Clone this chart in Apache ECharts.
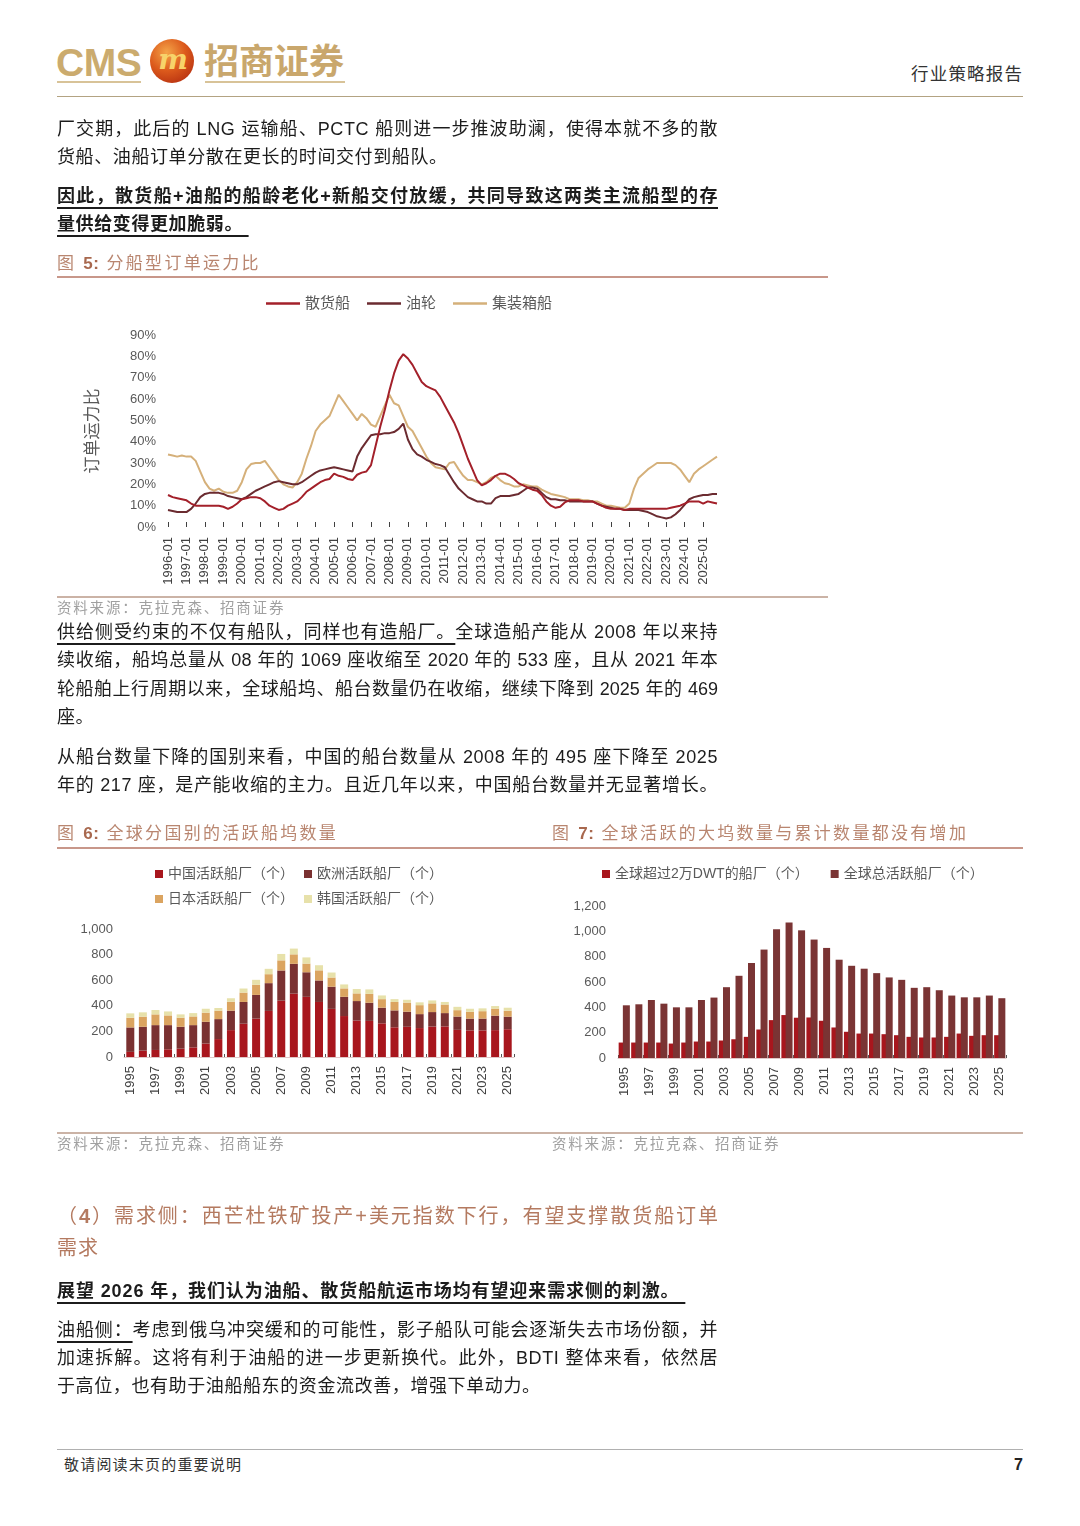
<!DOCTYPE html>
<html><head><meta charset="utf-8">
<script src="https://cdn.jsdelivr.net/npm/echarts@6/dist/echarts.min.js"></script>
<style>
html,body{margin:0;padding:0;background:#fff;}
body{width:1080px;height:1526px;position:relative;overflow:hidden;font-family:"Liberation Sans","Noto Sans CJK SC",sans-serif;}
#chart{position:absolute;left:0;top:0;width:1080px;height:1526px;}
.t{position:absolute;left:57px;white-space:nowrap;font-size:18px;letter-spacing:0.6px;line-height:28px;height:28px;color:#1c1c1c;z-index:2;}
.j{width:661px;text-align:justify;text-align-last:justify;}
.u{text-decoration:underline;text-underline-offset:5px;text-decoration-thickness:1.5px;}
.b{font-weight:bold;}
.hr{position:absolute;z-index:2;}
.fig{position:absolute;font-size:17px;letter-spacing:2.3px;line-height:24px;color:#b98670;white-space:nowrap;z-index:2;}
.fig b{color:#a8684e;letter-spacing:0.5px;}
.src{position:absolute;font-size:14.5px;letter-spacing:1.8px;line-height:20px;color:#a0a0a0;white-space:nowrap;z-index:2;}
.h4{position:absolute;left:57px;font-size:20px;line-height:30px;color:#b47a60;white-space:nowrap;z-index:2;}
</style></head>
<body>
<!-- header -->
<div style="position:absolute;left:56px;top:40px;font-family:'Liberation Sans Narrow','Liberation Sans';font-weight:bold;font-size:39px;line-height:46px;color:#cbab6e;letter-spacing:-0.5px;">CMS</div>
<div style="position:absolute;left:150px;top:39px;width:44px;height:44px;border-radius:50%;background:radial-gradient(circle at 38% 30%,#f4a448 0%,#dc5a1c 45%,#a8200c 100%);"></div>
<div style="position:absolute;left:156px;top:40px;width:34px;text-align:center;font-family:'DejaVu Serif';font-style:italic;font-weight:bold;font-size:28px;line-height:40px;color:#f7d36a;">m</div>
<div style="position:absolute;left:204px;top:40px;font-size:35px;line-height:44px;font-weight:bold;color:#c9a76c;">招商证券</div>
<div class="hr" style="left:57px;top:81px;width:84px;height:2px;background:#d8c398;"></div>
<div class="hr" style="left:205px;top:81px;width:140px;height:2px;background:#d8c398;"></div>
<div style="position:absolute;left:911px;top:62px;font-size:17.5px;letter-spacing:1.2px;line-height:24px;color:#333;">行业策略报告</div>
<div class="hr" style="left:57px;top:96px;width:966px;height:1px;background:#b3a382;"></div>

<!-- paragraph 1 -->
<div class="t j" style="top:115px;">厂交期，此后的 LNG 运输船、PCTC 船则进一步推波助澜，使得本就不多的散</div>
<div class="t" style="top:143px;">货船、油船订单分散在更长的时间交付到船队。</div>
<div class="t j b u" style="top:182px;">因此，散货船+油船的船龄老化+新船交付放缓，共同导致这两类主流船型的存</div>
<div class="t b" style="top:210px;"><span class="u">量供给变得更加脆弱。&nbsp;</span></div>

<!-- figure 5 title -->
<div class="fig" style="left:57px;top:252px;">图 <b>5:</b> 分船型订单运力比</div>
<div class="hr" style="left:57px;top:276px;width:771px;height:2px;background:#c8978a;"></div>
<div class="hr" style="left:57px;top:596px;width:771px;height:2px;background:#cbb3a6;"></div>
<div class="src" style="left:57px;top:598px;">资料来源：克拉克森、招商证券</div>

<!-- paragraph 2 -->
<div class="t j" style="top:618px;"><span class="u">供给侧受约束的不仅有船队，同样也有造船厂。</span>全球造船产能从 2008 年以来持</div>
<div class="t j" style="top:646px;letter-spacing:0.2px;">续收缩，船坞总量从 08 年的 1069 座收缩至 2020 年的 533 座，且从 2021 年本</div>
<div class="t j" style="top:675px;letter-spacing:0px;">轮船舶上行周期以来，全球船坞、船台数量仍在收缩，继续下降到 2025 年的 469</div>
<div class="t" style="top:703px;">座。</div>
<div class="t j" style="top:743px;">从船台数量下降的国别来看，中国的船台数量从 2008 年的 495 座下降至 2025</div>
<div class="t j" style="top:771px;">年的 217 座，是产能收缩的主力。且近几年以来，中国船台数量并无显著增长。</div>

<!-- figure 6/7 titles -->
<div class="fig" style="left:57px;top:822px;">图 <b>6:</b> 全球分国别的活跃船坞数量</div>
<div class="fig" style="left:552px;top:822px;">图 <b>7:</b> 全球活跃的大坞数量与累计数量都没有增加</div>
<div class="hr" style="left:57px;top:847px;width:966px;height:2px;background:#c8978a;"></div>
<div class="hr" style="left:57px;top:1132px;width:966px;height:2px;background:#cbb3a6;"></div>
<div class="src" style="left:57px;top:1134px;">资料来源：克拉克森、招商证券</div>
<div class="src" style="left:552px;top:1134px;">资料来源：克拉克森、招商证券</div>

<!-- section 4 -->
<div class="h4" style="top:1201px;width:661px;text-align:justify;text-align-last:justify;">（<b>4</b>）需求侧：西芒杜铁矿投产+美元指数下行，有望支撑散货船订单</div>
<div class="h4" style="top:1233px;letter-spacing:1px;">需求</div>
<div class="t b" style="top:1277px;letter-spacing:0.9px;"><span class="u">展望 2026 年，我们认为油船、散货船航运市场均有望迎来需求侧的刺激。&nbsp;</span></div>
<div class="t j" style="top:1316px;"><span class="u">油船侧：</span>考虑到俄乌冲突缓和的可能性，影子船队可能会逐渐失去市场份额，并</div>
<div class="t j" style="top:1344px;">加速拆解。这将有利于油船的进一步更新换代。此外，BDTI 整体来看，依然居</div>
<div class="t" style="top:1372px;">于高位，也有助于油船船东的资金流改善，增强下单动力。</div>

<!-- footer -->
<div class="hr" style="left:57px;top:1449px;width:966px;height:1px;background:#b0b0b0;"></div>
<div style="position:absolute;left:64px;top:1455px;font-size:15px;letter-spacing:1.2px;line-height:20px;color:#333;">敬请阅读末页的重要说明</div>
<div style="position:absolute;left:1014px;top:1454px;font-size:16px;line-height:22px;font-weight:bold;color:#222;">7</div>

<div id="chart"></div>
<script>
// ---------- Figure 5 data (quarterly, %) ----------
const years5 = [1996,1997,1998,1999,2000,2001,2002,2003,2004,2005,2006,2007,2008,2009,2010,2011,2012,2013,2014,2015,2016,2017,2018,2019,2020,2021,2022,2023,2024,2025];
const months5 = ['01','04','07','10'];
const quarters = [];
years5.forEach(y => months5.forEach(m => quarters.push(y + '-' + m)));

const bulk = [
15,14,13.5,13,
12.5,11,10,10,
10,10,10,10,
9.5,8.5,9.5,11,
13,13.5,14,14,
13.5,12,10,9,
8,8.5,10,11,
12,14,16.5,18,
19.5,21,22,22.5,
25,24,23.5,22.5,
22,24.5,25.5,26,
29,38,47,55,
64,72,78,81,
79,76,72,68,
66,65,64,61,
57,53,49,44,
38,32,27,22,
19.5,20.5,22,24,
25,25,24,22.5,
20.5,19.5,18.5,17.5,
17,15,12,10,
9,9.5,11.5,12.5,
12.5,12.5,12,12,
12,11,10,9,
8.5,8.5,8.5,8,
8.5,8.5,8.5,8.5,
8.5,8.5,8.5,8.5,
8.5,9,9.5,10,
11,12,12,12,
11,12,11.5,11
];
const tanker = [
8,7.5,7,7,
7,8.5,11,14,
15.5,16,16,16,
15.5,14.5,14,13.5,
13,14,15.5,17,
18,19,20,21,
21.5,21,20.5,20,
20,21,22.5,24,
25.5,26.5,27,27.5,
28,27.5,27,26.5,
26,33,37,40,
43,43.5,43.5,44,
44,44.5,46,48.5,
41,36.5,34,33,
31.5,30.5,29.5,29,
28,24.5,21,18,
16,14,13,12,
12,11,11,13.5,
14.5,14.5,14.5,15,
15.5,17,18.5,18.5,
18,16,14,13,
13,12.5,12.5,12,
12,12,12,12,
12,11,10,9.5,
9,8.5,8.5,8,
8,8,8,7.5,
7,6,5,4.5,
4,4.5,6,8,
10.5,13,14,14.5,
15,15,15.5,15.5
];
const container = [
34,33.5,33,33.5,
33,33,31,26,
21,18,17,18,
16.5,16,16,17,
21,27,29.5,30,
30,31,28,25,
22,20,19,18.5,
21,25,32,38,
45,48,50,52,
57,62,59,56,
53,50,53,51,
48,47,52,57,
62,58,57,52,
47,45,41,37,
33,30,28,27.5,
27,30,30.5,27,
24,22,22,21,
20,21,23,24,
22,20.5,20,19,
19,20,19.5,19,
19,17.5,16.5,15.5,
15,14.5,14,13,
13,13,12.5,12.5,
12,12,11,10,
10,9.5,9,9,
11,18,23,25,
27,28.5,30,30,
30,30,29,27,
24,21,25,27,
28.5,30,31.5,33
];

// ---------- Figure 6 / 7 data ----------
const yearsBar = ['1995','1996','1997','1998','1999','2000','2001','2002','2003','2004','2005','2006','2007','2008','2009','2010','2011','2012','2013','2014','2015','2016','2017','2018','2019','2020','2021','2022','2023','2024','2025'];
const chinaYards  = [40,50,55,60,65,75,105,140,210,260,300,360,440,495,470,430,376,320,285,282,263,232,236,226,238,239,212,208,208,210,217];
const europeYards = [191,186,194,189,171,174,170,156,152,170,185,217,236,233,192,168,173,150,152,142,122,132,118,109,113,104,104,92,92,113,98];
const japanYards  = [76,79,84,76,71,68,71,66,70,73,79,70,79,74,68,79,72,66,60,69,67,66,71,70,68,67,50,53,58,55,46];
const koreaYards  = [34,34,34,31,26,26,31,21,27,32,39,42,50,45,48,40,39,31,34,35,29,22,22,22,23,20,26,24,22,20,24];

const over20kDwt = [122,122,122,122,114,122,130,130,138,148,167,225,299,339,318,320,294,241,207,193,193,188,180,167,162,162,167,193,175,180,180];
const totalYards = [416,424,458,429,400,400,458,477,559,649,750,856,1017,1069,1008,935,869,776,728,705,670,636,617,554,559,535,493,479,479,493,472];

const C_BULK='#a3202a', C_TANK='#6b2b30', C_BOX='#d5b07a';
const C_CN='#a8161d', C_EU='#7a3131', C_JP='#dba460', C_KR='#e7e1aa';
const AX='#404040', LB='#595959';
const FONT='"Liberation Sans","Noto Sans CJK SC",sans-serif';
const thousands = v => v.toLocaleString('en-US');

const chart = echarts.init(document.getElementById('chart'), null, {renderer:'canvas'});
chart.setOption({
  animation:false,
  backgroundColor:'transparent',
  textStyle:{fontFamily:FONT},
  legend:[
    {data:['散货船','油轮','集装箱船'], left:266, top:296, padding:0, icon:'rect', itemWidth:34, itemHeight:2.5, itemGap:17,
     textStyle:{fontSize:15,color:LB,fontFamily:FONT}},
    {data:['中国活跃船厂（个）','欧洲活跃船厂（个）'], left:155, top:867, padding:0, icon:'rect', itemWidth:8, itemHeight:8, itemGap:10,
     textStyle:{fontSize:14,color:LB,fontFamily:FONT}},
    {data:['日本活跃船厂（个）','韩国活跃船厂（个）'], left:155, top:892, padding:0, icon:'rect', itemWidth:8, itemHeight:8, itemGap:10,
     textStyle:{fontSize:14,color:LB,fontFamily:FONT}},
    {data:['全球超过2万DWT的船厂（个）','全球总活跃船厂（个）'], left:602, top:867, padding:0, icon:'rect', itemWidth:8, itemHeight:8, itemGap:22,
     textStyle:{fontSize:14,color:LB,fontFamily:FONT}}
  ],
  grid:[
    {left:168, top:335, width:549, height:192},
    {left:124, top:929, width:390, height:128},
    {left:618, top:906, width:388, height:152}
  ],
  xAxis:[
    {type:'category', gridIndex:0, data:quarters, boundaryGap:false,
     axisLine:{show:false},
     axisTick:{show:true, interval:3, inside:true, length:5, lineStyle:{color:AX}},
     axisLabel:{interval:3, rotate:90, fontSize:13, color:AX, margin:10}},
    {type:'category', gridIndex:1, data:yearsBar, boundaryGap:true,
     axisLine:{show:true, lineStyle:{color:'#e0c8c8', width:1}},
     axisTick:{show:true, interval:1, inside:true, length:3, lineStyle:{color:'#555'}},
     axisLabel:{interval:1, rotate:90, fontSize:13, color:AX, margin:9}},
    {type:'category', gridIndex:2, data:yearsBar, boundaryGap:true,
     axisLine:{show:true, lineStyle:{color:'#e0c8c8', width:1}},
     axisTick:{show:true, interval:1, inside:true, length:3, lineStyle:{color:'#555'}},
     axisLabel:{interval:1, rotate:90, fontSize:13, color:AX, margin:9}}
  ],
  yAxis:[
    {type:'value', gridIndex:0, min:0, max:90, interval:10,
     axisLine:{show:false}, axisTick:{show:false}, splitLine:{show:false},
     axisLabel:{formatter:'{value}%', fontSize:13, color:LB, margin:12},
     name:'订单运力比', nameLocation:'middle', nameRotate:90, nameGap:66,
     nameTextStyle:{fontSize:17, color:LB, fontFamily:FONT}},
    {type:'value', gridIndex:1, min:0, max:1000, interval:200,
     axisLine:{show:false}, axisTick:{show:false}, splitLine:{show:false},
     axisLabel:{formatter:thousands, fontSize:13, color:LB, margin:11}},
    {type:'value', gridIndex:2, min:0, max:1200, interval:200,
     axisLine:{show:false}, axisTick:{show:false}, splitLine:{show:false},
     axisLabel:{formatter:thousands, fontSize:13, color:LB, margin:12}}
  ],
  series:[
    {name:'散货船', type:'line', xAxisIndex:0, yAxisIndex:0, data:bulk, showSymbol:false, color:C_BULK, lineStyle:{width:2, color:C_BULK}, z:4},
    {name:'油轮', type:'line', xAxisIndex:0, yAxisIndex:0, data:tanker, showSymbol:false, color:C_TANK, lineStyle:{width:2, color:C_TANK}, z:3},
    {name:'集装箱船', type:'line', xAxisIndex:0, yAxisIndex:0, data:container, showSymbol:false, color:C_BOX, lineStyle:{width:2, color:C_BOX}, z:2},

    {name:'中国活跃船厂（个）', type:'bar', xAxisIndex:1, yAxisIndex:1, stack:'yard', data:chinaYards, barWidth:8, color:C_CN},
    {name:'欧洲活跃船厂（个）', type:'bar', xAxisIndex:1, yAxisIndex:1, stack:'yard', data:europeYards, barWidth:8, color:C_EU},
    {name:'日本活跃船厂（个）', type:'bar', xAxisIndex:1, yAxisIndex:1, stack:'yard', data:japanYards, barWidth:8, color:C_JP},
    {name:'韩国活跃船厂（个）', type:'bar', xAxisIndex:1, yAxisIndex:1, stack:'yard', data:koreaYards, barWidth:8, color:C_KR},

    {name:'全球超过2万DWT的船厂（个）', type:'bar', xAxisIndex:2, yAxisIndex:2, data:over20kDwt, barWidth:7, barGap:'-40%', color:C_CN},
    {name:'全球总活跃船厂（个）', type:'bar', xAxisIndex:2, yAxisIndex:2, data:totalYards, barWidth:7, barGap:'-40%', color:'#7a3434'}
  ]
});
</script>
</body></html>
